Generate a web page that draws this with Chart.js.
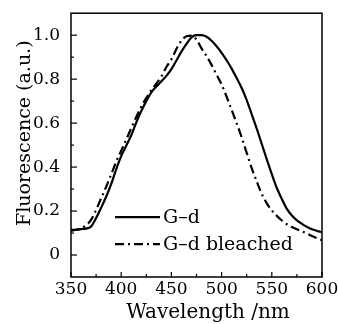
<!DOCTYPE html>
<html>
<head>
<meta charset="utf-8">
<script src="https://cdn.jsdelivr.net/npm/chart.js@4/dist/chart.umd.min.js"></script>
<style>
  html, body { margin: 0; padding: 0; background: #ffffff; }
  #wrap { width: 339px; height: 324px; position: relative; }
</style>
</head>
<body>
<div id="wrap"><canvas id="c" width="339" height="324"></canvas></div>
<script>
// ---- data ----
const wavelengths = [350,355,360,365,370,375,380,385,390,395,400,405,410,415,420,425,430,435,440,445,450,455,460,465,470,475,480,485,490,495,500,505,510,515,520,525,530,535,540,545,550,555,560,565,570,575,580,585,590,595,600];
const gdValues = [0.115,0.115,0.118,0.12,0.13,0.168,0.215,0.265,0.322,0.39,0.45,0.497,0.545,0.603,0.655,0.70,0.74,0.766,0.79,0.815,0.846,0.885,0.925,0.96,0.99,1.0,1.0,0.993,0.975,0.95,0.92,0.886,0.848,0.805,0.76,0.705,0.64,0.575,0.505,0.435,0.368,0.305,0.255,0.21,0.18,0.158,0.142,0.128,0.117,0.11,0.104];
const gdBleachedValues = [0.11,0.115,0.12,0.135,0.16,0.205,0.258,0.31,0.366,0.425,0.475,0.525,0.577,0.628,0.675,0.715,0.75,0.78,0.812,0.855,0.89,0.937,0.975,0.995,0.998,0.98,0.94,0.905,0.865,0.82,0.776,0.72,0.66,0.60,0.535,0.465,0.395,0.335,0.278,0.235,0.203,0.178,0.157,0.14,0.127,0.117,0.108,0.097,0.087,0.077,0.067];
const seriesLabels = ['G\u2013d', 'G\u2013d bleached'];
const xTickValues = [350,400,450,500,550,600];
const xTickLabels = ['350','400','450','500','550','600'];
const yTickValues = [0,0.2,0.4,0.6,0.8,1.0];
const yTickLabels = ['0','0.2','0.4','0.6','0.8','1.0'];
const xAxisTitle = 'Wavelength /nm';
const yAxisTitle = 'Fluorescence (a.u.)';

const FONT = '"DejaVu Serif", "Liberation Serif", serif';

function toPoints(vals) { return wavelengths.map((w, i) => ({ x: w, y: vals[i] })); }

const frameAndDecor = {
  id: 'frameAndDecor',
  afterDraw(chart) {
    const ctx = chart.ctx;
    const a = chart.chartArea;
    const xs = chart.scales.x, ys = chart.scales.y;
    ctx.save();
    ctx.strokeStyle = '#000';
    ctx.lineWidth = 1.5;
    ctx.strokeRect(a.left, a.top, a.right - a.left, a.bottom - a.top);
    ctx.lineWidth = 1.2;
    // x ticks (major + minor), pointing inward
    for (let i = 0; i < xTickValues.length; i++) {
      const px = xs.getPixelForValue(xTickValues[i]);
      ctx.beginPath(); ctx.moveTo(px, a.bottom); ctx.lineTo(px, a.bottom - 5); ctx.stroke();
      if (i < xTickValues.length - 1) {
        const pm = xs.getPixelForValue((xTickValues[i] + xTickValues[i + 1]) / 2);
        ctx.beginPath(); ctx.moveTo(pm, a.bottom); ctx.lineTo(pm, a.bottom - 3); ctx.stroke();
      }
    }
    for (let i = 0; i < yTickValues.length; i++) {
      const py = ys.getPixelForValue(yTickValues[i]);
      ctx.beginPath(); ctx.moveTo(a.left, py); ctx.lineTo(a.left + 6, py); ctx.stroke();
      if (i < yTickValues.length - 1) {
        const pm = ys.getPixelForValue((yTickValues[i] + yTickValues[i + 1]) / 2);
        ctx.beginPath(); ctx.moveTo(a.left, pm); ctx.lineTo(a.left + 3, pm); ctx.stroke();
      }
    }
    // axis titles
    ctx.fillStyle = '#000';
    ctx.textAlign = 'center';
    ctx.textBaseline = 'alphabetic';
    ctx.font = '20px ' + FONT;
    ctx.fillText(xAxisTitle, a.left + 137, 318);
    ctx.save();
    ctx.font = '19px ' + FONT;
    ctx.translate(30, a.top + 120);
    ctx.rotate(-Math.PI / 2);
    ctx.fillText(yAxisTitle, 0, 0);
    ctx.restore();
    // legend inside plot
    const ds = chart.data.datasets;
    ctx.font = '19px ' + FONT;
    ctx.textAlign = 'left';
    ctx.textBaseline = 'middle';
    const lx0 = a.left + 44, lx1 = a.left + 89, tx = a.left + 92;
    const rows = [a.top + 204, a.top + 231];
    ds.forEach((d, i) => {
      ctx.save();
      ctx.lineWidth = d.borderWidth;
      ctx.strokeStyle = d.borderColor;
      ctx.setLineDash(d.borderDash || []);
      ctx.beginPath(); ctx.moveTo(lx0, rows[i]); ctx.lineTo(lx1, rows[i]); ctx.stroke();
      ctx.restore();
      ctx.fillText(d.label, tx, rows[i] + 1);
    });
    ctx.restore();
  }
};

new Chart(document.getElementById('c'), {
  type: 'line',
  data: {
    datasets: [
      { label: seriesLabels[0], data: toPoints(gdValues), borderColor: '#000', borderWidth: 2.2, pointRadius: 0, fill: false, cubicInterpolationMode: 'monotone' },
      { label: seriesLabels[1], data: toPoints(gdBleachedValues), borderColor: '#000', borderWidth: 2.2, borderDash: [9, 4, 2, 4], pointRadius: 0, fill: false, cubicInterpolationMode: 'monotone' }
    ]
  },
  options: {
    responsive: false,
    animation: false,
    devicePixelRatio: 1,
    layout: { padding: { left: 0, right: 17, top: 12, bottom: 0 } },
    plugins: { legend: { display: false }, tooltip: { enabled: false }, title: { display: false } },
    scales: {
      x: {
        type: 'linear', min: 350, max: 600,
        afterBuildTicks: (s) => { s.ticks = xTickValues.map(v => ({ value: v })); },
        afterFit: (s) => { s.height = 47; },
        grid: { display: false },
        border: { display: false },
        ticks: { color: '#000', font: { family: FONT, size: 17 }, padding: -6, maxRotation: 0,
          callback: (v) => { const i = xTickValues.indexOf(v); return i >= 0 ? xTickLabels[i] : ''; } }
      },
      y: {
        type: 'linear', min: -0.1, max: 1.1,
        afterBuildTicks: (s) => { s.ticks = yTickValues.map(v => ({ value: v })); },
        afterFit: (s) => { s.width = 71; },
        grid: { display: false },
        border: { display: false },
        ticks: { color: '#000', font: { family: FONT, size: 17 }, padding: 3,
          callback: (v) => { const i = yTickValues.findIndex(t => Math.abs(t - v) < 1e-9); return i >= 0 ? yTickLabels[i] : ''; } }
      }
    }
  },
  plugins: [frameAndDecor]
});
</script>
</body>
</html>
